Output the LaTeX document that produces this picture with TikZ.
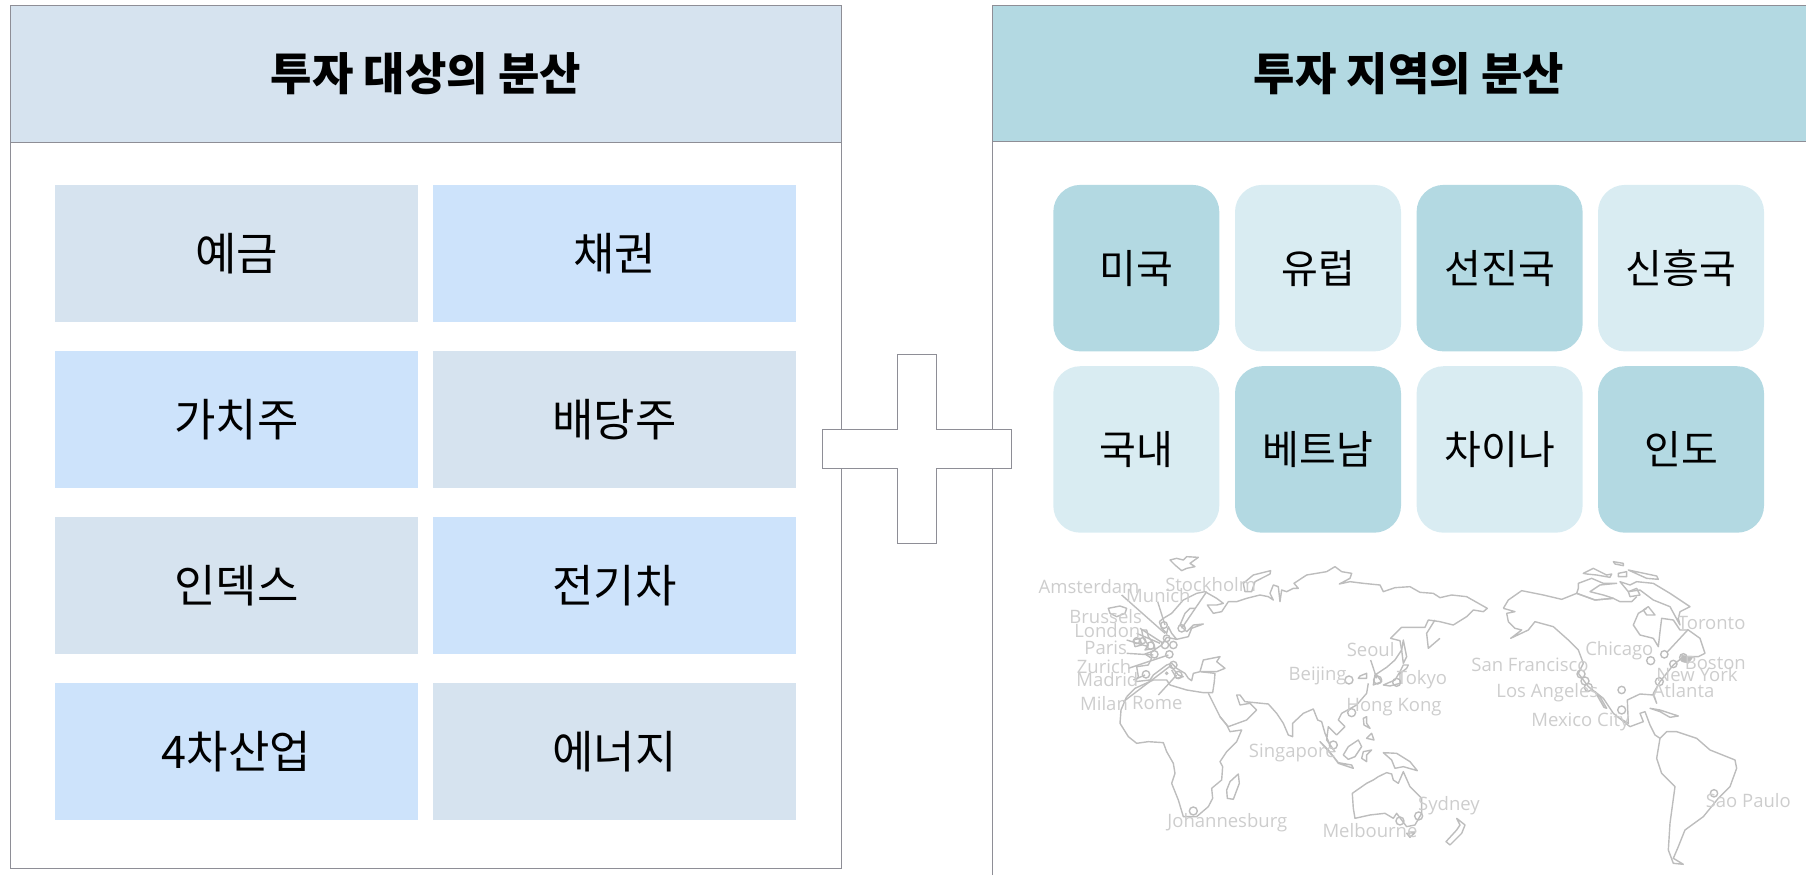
\documentclass[tikz,border=0pt]{standalone}
\usepackage{fontspec}
\setmainfont{Noto Sans CJK KR}
\newfontfamily\mapfont{Open Sans}
\usepackage{xcolor}
\definecolor{headblue}{HTML}{D6E3EF}
\definecolor{cellblue}{HTML}{CDE3FB}
\definecolor{headteal}{HTML}{B3D9E2}
\definecolor{paleteal}{HTML}{D9ECF2}
\definecolor{edgegray}{HTML}{8E8E96}
\definecolor{mapgray}{HTML}{BDBDBD}
\definecolor{citygray}{HTML}{CDCDCD}
\begin{document}
\begin{tikzpicture}[x=1pt, y=-1pt,
		edge/.style={draw=edgegray, line width=1pt},
		title/.style={anchor=center, font=\fontsize{45}{45}\selectfont\bfseries, text=black},
		square/.style={anchor=north west, inner sep=0pt, outer sep=0pt, minimum width=363pt, minimum height=136.5pt, font=\fontsize{45}{45}\selectfont, text=black},
		tile/.style={anchor=north west, inner sep=0pt, outer sep=0pt, rounded corners=27pt, minimum width=166pt, minimum height=166.5pt, font=\fontsize{40}{40}\selectfont, text=black},
		coast/.style={draw=mapgray, line width=1.4pt, line join=round},
		city/.style={draw=mapgray, line width=1.4pt},
		place/.style={font=\mapfont\fontsize{18.5}{18.5}\selectfont, text=citygray, inner sep=0pt, yshift=-1.5pt}]
	\useasboundingbox (0,0) rectangle (1806,875);
	\node (assetbody) [edge, anchor=north west, inner sep=0pt, minimum width=831pt, minimum height=862pt] at (10.3,5.5) {};
	\node (assethead) [edge, fill=headblue, anchor=north west, inner sep=0pt, minimum width=831pt, minimum height=136.2pt] at (10.3,5.5) {};
	\node (assettitle) [title] at (426,74) {투자 대상의 분산};
	\node (deposit) [square, fill=headblue] at (55,185.3) {예금};
	\node (bond) [square, fill=cellblue] at (433,185.3) {채권};
	\node (value) [square, fill=cellblue] at (55,351.3) {가치주};
	\node (dividend) [square, fill=headblue] at (433,351.3) {배당주};
	\node (index) [square, fill=headblue] at (55,517.3) {인덱스};
	\node (electric) [square, fill=cellblue] at (433,517.3) {전기차};
	\node (industry) [square, fill=cellblue] at (55,683.3) {4차산업};
	\node (energy) [square, fill=headblue] at (433,683.3) {에너지};
	\node (regionhead) [fill=headteal, anchor=north west, inner sep=0pt, minimum width=814pt, minimum height=136.2pt] at (992.6,5.5) {};
	\draw[edge] (992.6,875)--(992.6,5.5)--(1806,5.5);
	\draw[edge] (992.6,141.7)--(1806,141.7);
	\node (regiontitle) [title] at (1409,74) {투자 지역의 분산};
	\node (usa) [tile, fill=headteal] at (1053.3,184.9) {미국};
	\node (europe) [tile, fill=paleteal] at (1235,184.9) {유럽};
	\node (developed) [tile, fill=headteal] at (1416.6,184.9) {선진국};
	\node (emerging) [tile, fill=paleteal] at (1598,184.9) {신흥국};
	\node (domestic) [tile, fill=paleteal] at (1053.3,366.2) {국내};
	\node (vietnam) [tile, fill=headteal] at (1235,366.2) {베트남};
	\node (china) [tile, fill=paleteal] at (1416.6,366.2) {차이나};
	\node (india) [tile, fill=headteal] at (1598,366.2) {인도};
	\draw[edge, fill=white] (897.7,354.3)--(936.7,354.3)--(936.7,429.3)--(1011.7,429.3)--(1011.7,468.3)--(936.7,468.3)--(936.7,543.3)--(897.7,543.3)--(897.7,468.3)--(822.3,468.3)--(822.3,429.3)--(897.7,429.3)--cycle;
	\begin{scope}[shift={(1020,550)}, x=0.3333pt, y=-0.3333pt]
		\draw[coast] (450,30)--(470,25)--(490,30)--(500,20)--(535,22)--(510,40)--(525,50)--(500,55)--(485,62)--(465,45)--cycle;
		\draw[coast] (670,100)--(700,75)--(752,62)--(750,72)--(705,95)--(695,125)--(675,125)--cycle;
		\draw[coast] (265,175)--(300,168)--(320,175)--(315,190)--(290,200)--(270,190)--cycle;
		\draw[coast] (340,270)--(360,265)--(365,285)--(345,290)--cycle;
		\draw[coast] (365,240)--(380,240)--(385,260)--(400,280)--(405,295)--(375,300)--(385,285)--(370,265)--cycle;
		\draw[coast] (418,215)--(430,205)--(455,190)--(490,150)--(530,130)--(555,125)--(590,145)--(610,160)--(590,165)--(562,165)--(580,190)--(605,185)--(625,155)--(650,155)--(680,145)--(720,135)--(745,140)--(760,150)--(750,130)--(760,105)--(775,110)--(780,155)--(785,120)--(800,125)--(820,115)--(835,115)--(822,100)--(860,75)--(920,65)--(945,50)--(965,65)--(995,70)--(990,85)--(958,102)--(990,95)--(1030,100)--(1080,105)--(1090,125)--(1125,113)--(1170,110)--(1200,127)--(1240,130)--(1260,143)--(1295,135)--(1340,140)--(1402,175)--(1390,185)--(1360,180)--(1340,200)--(1300,225)--(1260,215)--(1225,210)--(1215,232)--(1145,232)--(1112,265)--(1140,272)--(1145,300)--(1125,330)--(1100,352)--(1065,375)--(1060,405)--(1085,395)--(1070,375);
		\draw[coast] (1020,378)--(1040,370)--(1040,385)--(1015,385)--cycle;
		\draw[coast] (1245,210)--(1220,250)--(1225,295)--(1260,265);
		\draw[coast] (1150,270)--(1160,320)--(1150,340)--(1145,300)--cycle;
		\draw[coast] (1090,405)--(1125,390)--(1140,365)--(1150,345)--(1165,345)--(1160,355)--(1140,370)--(1140,400)--(1110,408)--cycle;
		\draw[coast] (1045,400)--(1040,430)--(1010,465)--(965,490)--(955,510)--(975,530)--(950,555)--(925,530)--(920,570)--(945,605)--(930,585)--(915,550)--(905,515)--(893,510)--(880,477)--(850,490)--(818,520)--(818,560)--(805,555)--(790,520)--(770,490)--(745,462)--(675,455)--(660,435)--(650,435)--(660,465)--(690,460)--(710,480)--(680,510)--(625,530)--(600,500)--(565,430);
		\draw[coast] (320,440)--(303,480)--(300,520)--(325,560)--(350,580)--(385,575)--(430,578)--(440,605)--(460,640)--(465,670)--(455,700)--(475,750)--(490,800)--(530,800)--(565,770)--(578,745)--(575,715)--(605,690)--(608,650)--(600,635)--(620,605)--(650,575)--(665,540)--(630,545)--(620,525)--(600,500);
		\draw[coast] (320,440)--(345,415)--(400,390)--(440,390)--(450,405)--(500,420)--(550,428)--(578,428)--(583,395)--(585,370)--(540,365)--(520,370)--(515,392)--(505,385)--(495,370)--(470,355)--(455,340)--(440,345)--(400,375)--(390,390)--(345,395);
		\draw[coast] (470,268)--(440,262)--(425,285)--(395,305)--(375,312)--(395,325)--(385,345)--(350,350)--(355,380)--(345,395);
		\draw[coast] (418,215)--(425,235)--(440,250)--(445,230)--(455,250)--(470,268)--(505,260)--(515,235)--(550,222)--(520,225)--(500,245)--(480,225)--(495,190)--(510,175)--(525,175);
		\draw[coast] (540,365)--(550,330)--(575,325)--(600,320)--(590,335)--(615,355)--(590,365)--(545,365);
		\draw[coast] (450,345)--(475,375)--(490,380)--(470,385)--(455,360);
		\draw[mapgray, fill=mapgray] (440,370) circle (5);
		\draw[coast] (900,575)--(940,620)--(955,640)--(1000,655)--(995,645)--(955,638)--(925,600)--cycle;
		\draw[coast] (970,615)--(985,590)--(1015,570)--(1025,590)--(1005,620)--(985,628)--cycle;
		\draw[coast] (1030,605)--(1055,600)--(1040,615)--(1040,635)--(1025,625)--cycle;
		\draw[coast] (1030,505)--(1040,500)--(1040,520)--(1050,535)--(1032,525)--cycle;
		\draw[coast] (1040,565)--(1055,550)--(1062,570)--cycle;
		\draw[coast] (1090,608)--(1130,610)--(1170,635)--(1192,662)--(1150,650)--(1125,655)--(1115,630)--cycle;
		\draw[coast] (655,672)--(658,700)--(640,748)--(622,745)--(620,720)--(630,695)--cycle;
		\draw[coast] (997,730)--(1040,700)--(1060,690)--(1075,680)--(1100,668)--(1115,672)--(1120,690)--(1135,700)--(1150,665)--(1170,710)--(1205,745)--(1205,790)--(1185,825)--(1160,830)--(1130,790)--(1120,805)--(1095,790)--(1050,795)--(1005,805)--(1000,775)--cycle;
		\draw[coast] (1160,850)--(1185,848)--(1170,862)--cycle;
		\draw[city] (305,135)--(435,250);
		\draw[city] (413,155)--(435,225);
		\draw[city] (560,125)--(485,235);
		\draw[city] (350,250)--(420,280);
		\draw[city] (360,235)--(430,280);
		\draw[city] (320,270)--(385,290);
		\draw[city] (320,310)--(400,315);
		\draw[city] (325,355)--(445,315);
		\draw[city] (340,390)--(375,375);
		\draw[city] (310,455)--(455,345);
		\draw[city] (415,435)--(470,375);
		\draw[city] (1052,330)--(1070,385);
		\draw[city] (485,235) circle (11);
		\draw[city] (435,285) circle (11);
		\draw[city] (460,285) circle (11);
		\draw[city] (448,313) circle (11);
		\draw[city] (403,313) circle (11);
		\draw[city] (392,287) circle (11);
		\draw[city] (368,272) circle (9);
		\draw[city] (350,272) circle (9);
		\draw[city] (378,373) circle (11);
		\draw[city] (460,345) circle (11);
		\draw[city] (475,375) circle (11);
		\draw[city] (440,265) circle (10);
		\draw[city] (432,225) circle (10);
		\draw[city] (987,390) circle (12);
		\draw[city] (1073,390) circle (12);
		\draw[city] (1130,397) circle (12);
		\draw[city] (995,488) circle (12);
		\draw[city] (940,585) circle (12);
		\draw[city] (520,783) circle (12);
		\draw[city] (1140,813) circle (12);
		\draw[city] (1196,798) circle (12);
		\node (amsterdam) [place] at (207,105) {Amsterdam};
		\node (stockholm) [place] at (572,98) {Stockholm};
		\node (munich) [place] at (415,133) {Munich};
		\node (brussels) [place] at (257,195) {Brussels};
		\node (london) [place] at (262,238) {London};
		\node (paris) [place] at (257,290) {Paris};
		\node (zurich) [place] at (252,345) {Zurich};
		\node (madrid) [place] at (262,385) {Madrid};
		\node (milan) [place] at (252,455) {Milan};
		\node (rome) [place] at (412,455) {Rome};
		\node (seoul) [place] at (1052,295) {Seoul};
		\node (beijing) [place] at (893,372) {Beijing};
		\node (tokyo) [place] at (1206,385) {Tokyo};
		\node (hongkong) [place] at (1122,467) {Hong Kong};
		\node (singapore) [place] at (817,605) {Singapore};
		\node (johannesburg) [place] at (622,815) {Johannesburg};
		\node (melbourne) [place] at (1050,838) {Melbourne};
		\node (sydney) [place] at (1287,762) {Sydney};
	\end{scope}
	\begin{scope}[shift={(1440,550)}, x=0.3333pt, y=-0.3333pt]
		\draw[coast] (520,35)--(550,40)--(550,47)--(525,42)--cycle;
		\draw[coast] (535,70)--(560,65)--(560,80)--(535,80)--cycle;
		\draw[coast] (565,60)--(650,78)--(655,88)--(620,85)--cycle;
		\draw[coast] (430,70)--(460,55)--(500,75)--(515,72)--(510,82)--(470,75)--(440,72)--cycle;
		\draw[coast] (415,115)--(415,100)--(455,85)--(490,100)--(530,100)--(480,105)--(450,125)--(490,135)--(520,145)--(465,150)--(410,130)--cycle;
		\draw[coast] (540,95)--(570,105)--(590,95)--(640,100)--(690,130)--(750,170)--(720,185)--(715,205)--(720,225)--(690,170)--(640,150)--(600,120)--(565,125)--cycle;
		\draw[coast] (565,125)--(590,115)--(600,135)--(570,140)--cycle;
		\draw[coast] (610,180)--(625,170)--(645,195)--(620,195)--cycle;
		\draw[coast] (190,175)--(205,150)--(245,122)--(310,135)--(365,148)--(410,130)--(465,150)--(520,145)--(540,155)--(575,155)--(590,140);
		\draw[coast] (190,175)--(225,185)--(200,190)--(205,215)--(225,235)--(245,240)--(212,265)--(265,240)--(285,215)--(340,230)--(385,270)--(415,300)--(430,340)--(415,370)--(445,410)--(490,445)--(520,490)--(570,530)--(610,515)--(600,490)--(615,485)--(630,525)--(645,555)--(660,565)--(680,545)--(710,545)--(770,565)--(810,600)--(885,630)--(890,655)--(870,710)--(835,745)--(790,800)--(735,840)--(715,890)--(700,925)--(730,943)--(700,940)--(685,900)--(690,820)--(705,710)--(665,670)--(650,625)--(660,565);
		\draw[coast] (540,505)--(565,520)--(562,450)--(600,432)--(640,435)--(650,460)--(640,430)--(660,395)--(700,345)--(730,320)--(775,320)--(795,310)--(780,265)--(745,240)--(720,240)--(700,210)--(665,205)--(660,245)--(655,290)--(640,265)--(600,255)--(580,225)--(595,190)--(620,175);
		\draw[coast] (630,475)--(660,480)--(715,498)--(690,502)--(660,485)--cycle;
		\draw[coast] (465,425)--(480,440)--(500,475)--(492,472)--cycle;
		\draw[coast] (50,805)--(75,825)--(65,850)--(30,885)--(18,875)--(50,840)--(60,825)--cycle;
		\draw[mapgray, fill=mapgray] (725,315)--(745,320)--(760,320)--(745,340)--(725,335)--cycle;
		\draw[city] (745,238)--(680,308);
		\draw[city] (423,372) circle (12);
		\draw[city] (435,393) circle (12);
		\draw[city] (445,412) circle (12);
		\draw[city] (545,420) circle (11);
		\draw[city] (545,480) circle (12);
		\draw[city] (632,332) circle (12);
		\draw[city] (673,313) circle (11);
		\draw[city] (700,342) circle (11);
		\draw[city] (730,322) circle (11);
		\draw[city] (658,395) circle (12);
		\draw[city] (822,730) circle (11);
		\node (toronto) [place] at (815,213) {Toronto};
		\node (chicago) [place] at (538,298) {Chicago};
		\node (sanfrancisco) [place] at (270,340) {San Francisco};
		\node (boston) [place] at (826,335) {Boston};
		\node (newyork) [place] at (771,368) {New York};
		\node (losangeles) [place] at (322,423) {Los Angeles};
		\node (atlanta) [place] at (731,418) {Atlanta};
		\node (mexicocity) [place] at (421,512) {Mexico City};
		\node (saopaulo) [place] at (925,748) {Sao Paulo};
	\end{scope}
\end{tikzpicture}
\end{document}
